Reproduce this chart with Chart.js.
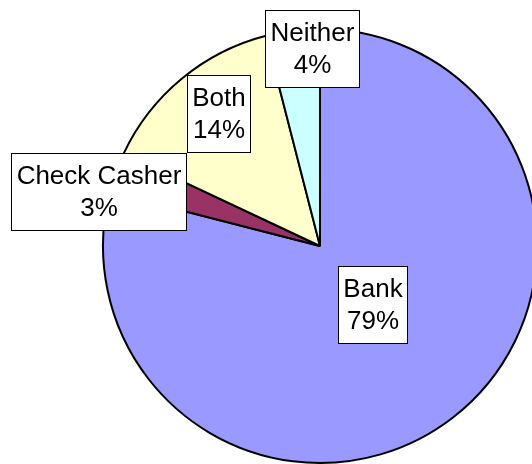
<!DOCTYPE html>
<html>
<head>
<meta charset="utf-8">
<script src="https://cdn.jsdelivr.net/npm/chart.js@4.4.1/dist/chart.umd.min.js"></script>
<style>
  html, body { margin: 0; padding: 0; background: #fff; overflow: hidden; }
  #wrap { position: relative; width: 600px; height: 466px; }
</style>
</head>
<body>
<div id="wrap"><canvas id="pie"></canvas></div>
<script>
// Share of respondents by where they cash checks
const categories = ['Bank', 'Check Casher', 'Both', 'Neither'];
const shares = [79, 3, 14, 4];
const sliceColors = ['#9999FF', '#993366', '#FFFFCC', '#CCFFFF'];

// Where each label box sits: fraction of the radius and an angle nudge (degrees)
const labelPlacement = [
    { r: 0.36, da: -4 },
    { r: 1.05, da: -6 },
    { r: 0.77, da: 2 },
    { r: 0.91, da: 5 }
];

const FONT = '26px "Liberation Sans", Arial, sans-serif';
const LINE_HEIGHT = 32;

// Draws a white boxed "name / percent" label for every slice
const boxedLabels = {
    id: 'boxedLabels',
    afterDatasetsDraw(chart) {
        const ctx = chart.ctx;
        const meta = chart.getDatasetMeta(0);
        ctx.save();
        ctx.font = FONT;
        ctx.textAlign = 'center';
        ctx.textBaseline = 'middle';
        meta.data.forEach((arc, i) => {
            const { x, y, startAngle, endAngle, outerRadius } = arc.getProps(['x', 'y', 'startAngle', 'endAngle', 'outerRadius'], true);
            const place = labelPlacement[i];
            const mid = (startAngle + endAngle) / 2 + place.da * Math.PI / 180;
            const cx = x + Math.cos(mid) * outerRadius * place.r;
            const cy = y + Math.sin(mid) * outerRadius * place.r;
            const lines = [categories[i], shares[i] + '%'];
            const w = Math.round(Math.max(...lines.map(t => ctx.measureText(t).width)) + 10);
            const h = LINE_HEIGHT * lines.length + 13;
            const left = Math.round(cx - w / 2) + 0.5;
            const top = Math.round(cy - h / 2) + 0.5;
            ctx.fillStyle = '#ffffff';
            ctx.fillRect(left, top, w, h);
            ctx.strokeStyle = '#000000';
            ctx.lineWidth = 1;
            ctx.strokeRect(left, top, w, h);
            ctx.fillStyle = '#000000';
            lines.forEach((t, j) => {
                ctx.fillText(t, left + w / 2, top + 6.5 + LINE_HEIGHT * (j + 0.5) + 1);
            });
        });
        ctx.restore();
    }
};

new Chart(document.getElementById('pie').getContext('2d'), {
    type: 'pie',
    data: {
        labels: categories,
        datasets: [{
            data: shares,
            backgroundColor: sliceColors,
            borderColor: '#000000',
            borderWidth: 2
        }]
    },
    options: {
        responsive: true,
        maintainAspectRatio: false,
        animation: false,
        layout: { padding: { left: 102, right: 62, top: 28, bottom: 2 } },
        plugins: {
            legend: { display: false },
            tooltip: { enabled: false }
        }
    },
    plugins: [boxedLabels]
});
</script>
</body>
</html>
